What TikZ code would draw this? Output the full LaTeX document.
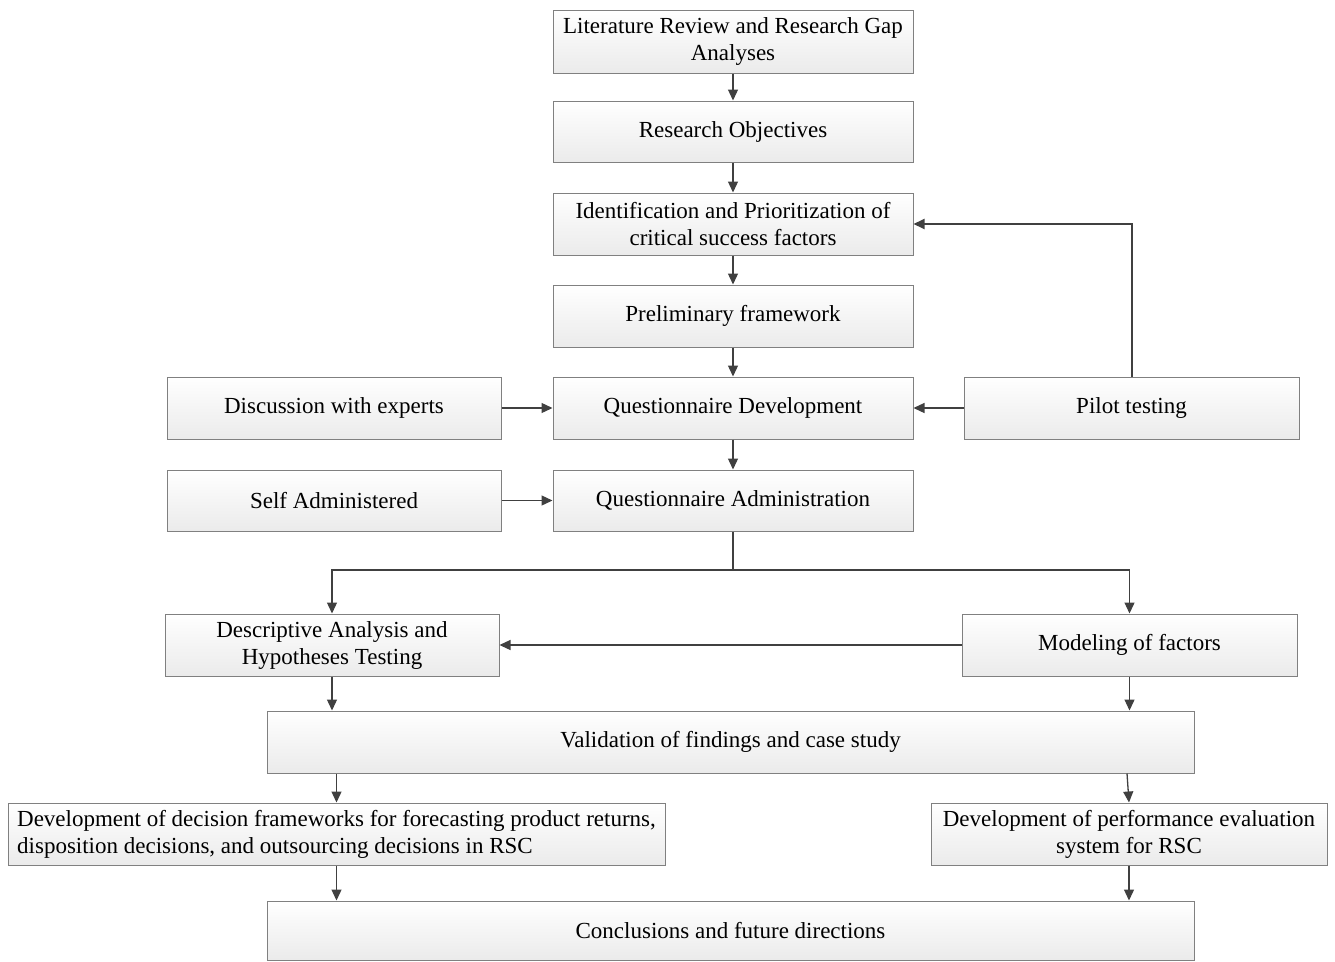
\documentclass[tikz,border=0pt]{standalone}
\usepackage{fontspec}
\setmainfont{Liberation Serif}
\usetikzlibrary{arrows.meta}
\definecolor{edgegray}{HTML}{808080}
\definecolor{linegray}{HTML}{404040}
\tikzset{
  box/.style={draw=edgegray, line width=1pt, top color=white, bottom color=black!8,
    inner sep=0pt, align=center, font=\fontsize{23}{27}\selectfont},
  conn/.style={draw=linegray, line width=1.3pt,
    -{Triangle[length=11pt,width=10pt]}},
}
\begin{document}
\begin{tikzpicture}[x=1pt,y=-1pt]
\useasboundingbox (0,0) rectangle (1335,961);

% main column
\node[box, minimum width=360pt, minimum height=63pt] (lit)  at (733,41.5)  {Literature Review and Research Gap\\Analyses};
\node[box, minimum width=360pt, minimum height=61pt] (obj)  at (733,131.5) {Research Objectives};
\node[box, minimum width=360pt, minimum height=62pt] (csf)  at (733,224)   {Identification and Prioritization of\\critical success factors};
\node[box, minimum width=360pt, minimum height=62pt] (pre)  at (733,316)   {Preliminary framework};
\node[box, minimum width=360pt, minimum height=62pt] (qdev) at (733,408)   {Questionnaire Development};
\node[box, minimum width=360pt, minimum height=61pt] (qadm) at (733,500.5) {Questionnaire Administration};

% side inputs
\node[box, minimum width=334pt, minimum height=62pt] (exp)   at (334,408)    {Discussion with experts};
\node[box, minimum width=335pt, minimum height=62pt] (pilot) at (1131.5,408) {Pilot testing};
\node[box, minimum width=334pt, minimum height=61pt] (self)  at (334,500.5)  {Self Administered};

% analysis stage
\node[box, minimum width=334pt, minimum height=62pt] (desc) at (332,645)    {Descriptive Analysis and\\Hypotheses Testing};
\node[box, minimum width=335pt, minimum height=62pt] (mod)  at (1129.5,645) {Modeling of factors};
\node[box, minimum width=927pt, minimum height=62pt] (val)  at (730.5,742)  {Validation of findings and case study};

% outcomes
\node[box, minimum width=657pt, minimum height=62pt, align=left] (dec) at (336.5,834)
  {Development of decision frameworks for forecasting product returns,\\disposition decisions, and outsourcing decisions in RSC};
\node[box, minimum width=396pt, minimum height=62pt] (perf) at (1129,834) {Development of performance evaluation\\system for RSC};
\node[box, minimum width=927pt, minimum height=59pt] (conc) at (730.5,930.5) {Conclusions and future directions};

% branching point below the administration box
\coordinate (split) at (733,570);

% connectors
\draw[conn] (lit) -- (obj);
\draw[conn] (obj) -- (csf);
\draw[conn] (csf) -- (pre);
\draw[conn] (pre) -- (qdev);
\draw[conn] (qdev) -- (qadm);
\draw[conn] (exp) -- (qdev);
\draw[conn] (pilot) -- (qdev);
\draw[conn] (self) -- (qadm);
\draw[conn, line width=2pt] (pilot.north) |- (csf.east);

\draw[draw=linegray, line width=1.3pt] (qadm.south) -- (split);
\draw[conn] (split) -| (desc.north);
\draw[conn] (split) -| (mod.north);
\draw[conn] (mod) -- (desc);

\draw[conn] (desc.south) -- (desc.south |- val.north);
\draw[conn] (mod.south) -- (mod.south |- val.north);

\draw[conn] (val.south -| dec.north) -- (dec.north);
\draw[conn] ([xshift=396.5pt]val.south) -- (perf.north);

\draw[conn] (dec.south) -- (dec.south |- conc.north);
\draw[conn] (perf.south) -- (perf.south |- conc.north);
\end{tikzpicture}
\end{document}
